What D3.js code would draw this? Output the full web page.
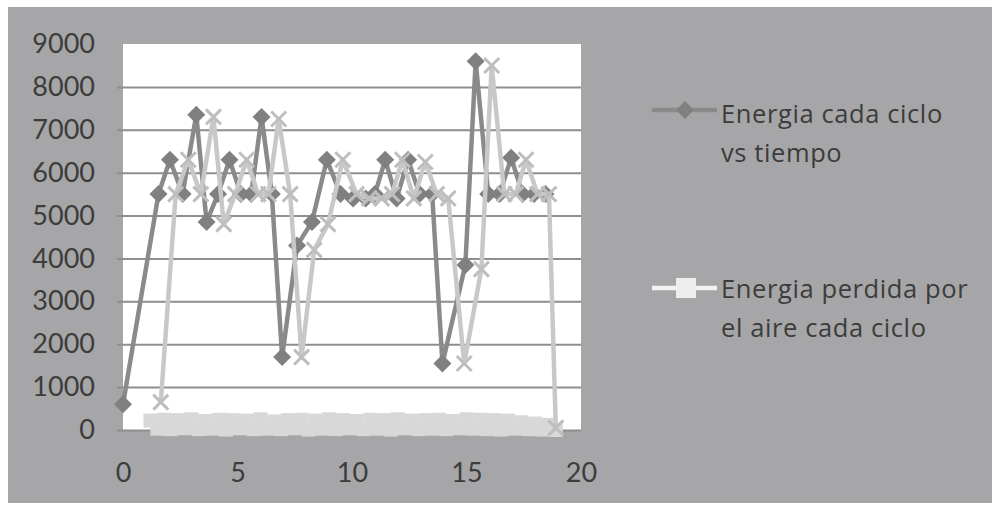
<!DOCTYPE html>
<html>
<head>
<meta charset="utf-8">
<script src="https://cdn.jsdelivr.net/npm/d3@7/dist/d3.min.js"></script>
<style>
  html, body { margin: 0; padding: 0; background: #ffffff; }
  svg { display: block; }
  text { font-family: Lato, "Open Sans", sans-serif; fill: #3c3c3c; }
  .legend text { font-family: "Open Sans", Lato, sans-serif; letter-spacing: 0.6px; }
</style>
</head>
<body>
<svg id="chart" width="998" height="506"></svg>
<script>
// Axis ticks
const xTicks = [0, 5, 10, 15, 20];
const yTicks = [0, 1000, 2000, 3000, 4000, 5000, 6000, 7000, 8000, 9000];

// Series 1: Energia cada ciclo vs tiempo (diamonds)
const cicloT = [0, 1.55, 2.05, 2.6, 3.2, 3.65, 4.15, 4.65, 5.15, 5.6, 6.05, 6.5, 6.95, 7.6, 8.25, 8.9, 9.5,
  10.05, 10.6, 11.0, 11.45, 11.95, 12.45, 12.95, 13.5, 13.95, 14.95, 15.4, 15.95, 16.45, 16.95, 17.45, 17.95, 18.45];
const cicloE = [600, 5500, 6300, 5500, 7350, 4850, 5500, 6300, 5500, 5500, 7300, 5500, 1700, 4300, 4850, 6300, 5500,
  5400, 5400, 5500, 6300, 5400, 6300, 5500, 5500, 1550, 3850, 8600, 5500, 5500, 6350, 5500, 5500, 5500];

// Series 2: Energia perdida por el aire cada ciclo (squares)
const aireT = [1.2, 1.5, 1.8, 2.1, 2.4, 2.7, 3.0, 3.3, 3.6, 3.9, 4.2, 4.5, 4.8, 5.1, 5.4, 5.7, 6.0, 6.3, 6.6, 6.9,
  7.2, 7.5, 7.8, 8.1, 8.4, 8.7, 9.0, 9.3, 9.6, 9.9, 10.2, 10.5, 10.8, 11.1, 11.4, 11.7, 12.0, 12.3, 12.6, 12.9,
  13.2, 13.5, 13.8, 14.1, 14.4, 14.7, 15.0, 15.3, 15.6, 15.9, 16.2, 16.5, 16.8, 17.1, 17.4, 17.7, 18.0, 18.3, 18.6, 18.9];
const aireE = [220, 30, 240, 20, 230, 40, 250, 20, 210, 30, 240, 10, 230, 40, 220, 20, 250, 30, 200, 20,
  230, 40, 240, 10, 220, 30, 250, 20, 230, 40, 210, 20, 240, 30, 230, 10, 250, 40, 220, 20,
  230, 30, 240, 20, 210, 40, 250, 30, 240, 20, 230, 10, 220, 30, 180, 20, 150, 10, 120, 0];

// Series 3: cycle energy on the shifted time base (crosses)
const desfT = [1.65, 2.3, 2.85, 3.4, 3.95, 4.4, 4.9, 5.4, 5.9, 6.35, 6.8, 7.3, 7.8, 8.35, 8.95, 9.6, 10.2,
  10.75, 11.3, 11.75, 12.2, 12.7, 13.2, 13.7, 14.2, 14.9, 15.65, 16.1, 16.65, 17.15, 17.6, 18.1, 18.6, 18.9];
const desfE = [650, 5500, 6300, 5500, 7300, 4800, 5500, 6300, 5500, 5500, 7250, 5500, 1700, 4200, 4800, 6300, 5500,
  5400, 5400, 5500, 6300, 5400, 6250, 5500, 5400, 1550, 3750, 8500, 5500, 5500, 6300, 5500, 5500, 50];

const legendLabels = [
  ["Energia cada ciclo", "vs tiempo"],
  ["Energia perdida por", "el aire cada ciclo"]
];

const svg = d3.select("#chart");

// panel background
svg.append("rect").attr("x", 8).attr("y", 7).attr("width", 984).attr("height", 496).attr("fill", "#a6a6a8");

const plot = { left: 123, right: 581, top: 44, bottom: 430 };
const x = d3.scaleLinear().domain([0, 20]).range([plot.left, plot.right]);
const y = d3.scaleLinear().domain([0, 9000]).range([plot.bottom, plot.top]);

svg.append("rect")
  .attr("x", plot.left).attr("y", plot.top)
  .attr("width", plot.right - plot.left).attr("height", plot.bottom - plot.top)
  .attr("fill", "#ffffff");

// y axis with gridlines
const yAxisX = plot.left - 6;
const yAxis = d3.axisLeft(y).tickValues(yTicks).tickFormat(d3.format("d"))
  .tickSize(-(plot.right - yAxisX)).tickSizeOuter(0).tickPadding(22);
const gy = svg.append("g").attr("transform", `translate(${yAxisX},0)`).call(yAxis);
gy.select(".domain").remove();
gy.selectAll(".tick line")
  .attr("stroke", "#8e8e8e").attr("stroke-width", 2)
  .attr("display", d => d === 9000 ? "none" : null);
gy.selectAll(".tick text").attr("font-size", 27).attr("fill", "#3c3c3c");

// x axis labels
const xAxis = d3.axisBottom(x).tickValues(xTicks).tickSize(0).tickPadding(33);
const gx = svg.append("g").attr("transform", `translate(0,${plot.bottom})`).call(xAxis);
gx.select(".domain").remove();
gx.selectAll(".tick text").attr("font-size", 27).attr("fill", "#3c3c3c");

const line = d3.line().x(d => x(d[0])).y(d => y(d[1]));
const diamond = r => `M0,${-r}L${r},0L0,${r}L${-r},0Z`;

const cicloData = cicloT.map((t, i) => [t, cicloE[i]]);
const aireData = aireT.map((t, i) => [t, aireE[i]]);
const desfData = desfT.map((t, i) => [t, desfE[i]]);

const darkCol = "#8a8a8a", darkMark = "#808080";
const aireCol = "#d8d8d8";
const lightCol = "#c8c8c8";

// series 1
svg.append("path").datum(cicloData).attr("d", line)
  .attr("fill", "none").attr("stroke", darkCol).attr("stroke-width", 4.5).attr("stroke-linejoin", "round");
svg.append("g").selectAll("path").data(cicloData).join("path")
  .attr("transform", d => `translate(${x(d[0])},${y(d[1])})`)
  .attr("d", diamond(9)).attr("fill", darkMark);

// series 2
svg.append("path").datum(aireData).attr("d", line)
  .attr("fill", "none").attr("stroke", aireCol).attr("stroke-width", 4.5);
svg.append("g").selectAll("rect").data(aireData).join("rect")
  .attr("x", d => x(d[0]) - 7).attr("y", d => y(d[1]) - 7)
  .attr("width", 14).attr("height", 14).attr("fill", aireCol);

// series 3
svg.append("path").datum(desfData).attr("d", line)
  .attr("fill", "none").attr("stroke", lightCol).attr("stroke-width", 4.5).attr("stroke-linejoin", "round");
svg.append("g").selectAll("path").data(desfData).join("path")
  .attr("transform", d => `translate(${x(d[0])},${y(d[1])})`)
  .attr("d", "M-7.5,-7.5L7.5,7.5M-7.5,7.5L7.5,-7.5")
  .attr("stroke", "#bebebe").attr("stroke-width", 3).attr("fill", "none");

// legend
const leg = svg.append("g").attr("class", "legend");
leg.append("line").attr("x1", 652).attr("x2", 717).attr("y1", 110).attr("y2", 110)
  .attr("stroke", darkCol).attr("stroke-width", 4.5);
leg.append("path").attr("transform", "translate(685,110)").attr("d", diamond(9)).attr("fill", darkMark);
leg.append("line").attr("x1", 652).attr("x2", 717).attr("y1", 288).attr("y2", 288)
  .attr("stroke", "#f2f2f2").attr("stroke-width", 4.5);
leg.append("rect").attr("x", 676).attr("y", 278).attr("width", 20).attr("height", 20).attr("fill", "#eeeeee");

const legY = [[123, 162], [298, 337]];
legendLabels.forEach((lines, i) => {
  lines.forEach((s, j) => {
    leg.append("text").attr("x", 721).attr("y", legY[i][j]).attr("font-size", 25.5).text(s);
  });
});
</script>
</body>
</html>
